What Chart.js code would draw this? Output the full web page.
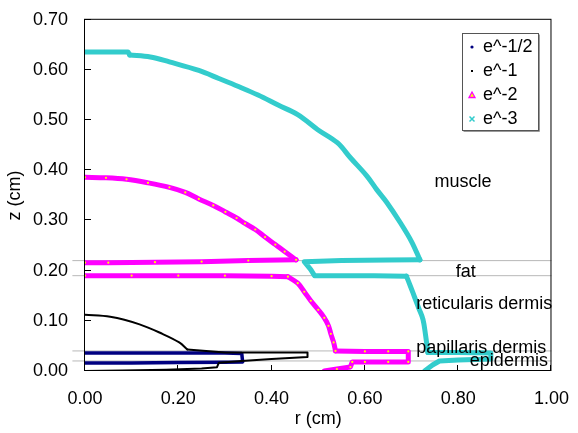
<!DOCTYPE html>
<html>
<head>
<meta charset="utf-8">
<script src="https://cdn.jsdelivr.net/npm/chart.js@4.4.1/dist/chart.umd.min.js"></script>
<style>
html, body { margin: 0; padding: 0; background: #fff; }
#c { display: block; }
</style>
</head>
<body>
<canvas id="c" width="578" height="433"></canvas>
<script>
// contour e^-1/2
const e05R = [0, 0.10, 0.20, 0.30, 0.336, 0.338, 0.30, 0.20, 0.10, 0];
const e05Z = [0.036, 0.036, 0.036, 0.036, 0.035, 0.018, 0.0175, 0.017, 0.016, 0.016];

// contour e^-1 : curved part, then the flat loop down to the surface
const e1ArcR = [0, 0.054, 0.117, 0.166, 0.202, 0.2195];
const e1ArcZ = [0.112, 0.108, 0.093, 0.074, 0.057, 0.043];
const e1FlatR = [0.2195, 0.30, 0.40, 0.477, 0.477, 0.40, 0.336, 0.287, 0.283, 0.25, 0.174, 0.08, 0];
const e1FlatZ = [0.043, 0.037, 0.037, 0.037, 0.028, 0.024, 0.020, 0.0165, 0.0077, 0.005, 0.0026, 0.001, 0.0];

// contour e^-2
const e2ArcR = [0, 0.045, 0.089, 0.135, 0.181, 0.215, 0.244, 0.275, 0.301, 0.325, 0.343, 0.365, 0.386, 0.408, 0.428, 0.4525];
const e2ArcZ = [0.386, 0.385, 0.382, 0.375, 0.366, 0.356, 0.343, 0.330, 0.317, 0.305, 0.294, 0.282, 0.267, 0.252, 0.238, 0.2215];
const e2FatTopR = [0.4525, 0.35, 0.25, 0.15, 0.05, 0];
const e2FatTopZ = [0.2215, 0.220, 0.218, 0.217, 0.216, 0.216];
const e2FatBotR = [0, 0.10, 0.20, 0.30, 0.40, 0.435];
const e2FatBotZ = [0.190, 0.190, 0.190, 0.190, 0.189, 0.188];
const e2DermR = [0.435, 0.456, 0.470, 0.484, 0.50, 0.513, 0.522, 0.527, 0.533, 0.537];
const e2DermZ = [0.188, 0.175, 0.158, 0.140, 0.122, 0.106, 0.090, 0.074, 0.057, 0.040];
const e2SkinR = [0.537, 0.60, 0.65, 0.693, 0.693, 0.65, 0.60, 0.573, 0.569, 0.54, 0.513];
const e2SkinZ = [0.040, 0.039, 0.039, 0.039, 0.018, 0.018, 0.018, 0.018, 0.008, 0.004, 0.0];

// contour e^-3
const e3StepR = [0, 0.092, 0.096];
const e3StepZ = [0.636, 0.636, 0.630];
const e3ArcR = [0.096, 0.14, 0.181, 0.244, 0.287, 0.329, 0.371, 0.414, 0.456, 0.499, 0.541, 0.569, 0.604, 0.625, 0.647, 0.675, 0.700, 0.718];
const e3ArcZ = [0.630, 0.626, 0.616, 0.599, 0.583, 0.567, 0.550, 0.530, 0.511, 0.481, 0.455, 0.425, 0.389, 0.362, 0.336, 0.297, 0.258, 0.2215];
const e3FatR = [0.718, 0.65, 0.55, 0.47, 0.484, 0.492, 0.55, 0.62, 0.689];
const e3FatZ = [0.2215, 0.221, 0.220, 0.218, 0.202, 0.190, 0.190, 0.190, 0.189];
const e3DermR = [0.689, 0.698, 0.707, 0.716, 0.7245, 0.730, 0.735];
const e3DermZ = [0.189, 0.168, 0.146, 0.124, 0.103, 0.072, 0.037];
const e3SkinR = [0.735, 0.80, 0.87, 0.87, 0.80, 0.76, 0.745, 0.728];
const e3SkinZ = [0.037, 0.037, 0.036, 0.024, 0.022, 0.020, 0.012, 0.0];

// layer boundaries and names
const boundaryZ = [0.22, 0.19, 0.04, 0.02];
const boundaryR = [-0.027, 1.0];
const layerNames = ["muscle", "fat", "reticularis dermis", "papillaris dermis", "epidermis"];
const layerLabelR = [0.749, 0.795, 0.71, 0.71, 0.825];
const layerLabelZ = [0.376, 0.198, 0.133, 0.0465, 0.019];

const FONT = "'Liberation Sans', Arial, sans-serif";
const pts = (r, z) => r.map((v, i) => ({ x: v, y: z[i] }));

// parts: [r, z, curved?]
const series = [
  { label: "e^-1/2", parts: [[e05R, e05Z, false]], color: "#000080", width: 3.5, mark: "dot" },
  { label: "e^-1", parts: [[e1ArcR, e1ArcZ, true], [e1FlatR, e1FlatZ, false]], color: "#000000", width: 2, mark: "pix" },
  { label: "e^-2", parts: [[e2ArcR, e2ArcZ, true], [e2FatTopR, e2FatTopZ, false], [e2FatBotR, e2FatBotZ, false],
      [e2DermR, e2DermZ, true], [e2SkinR, e2SkinZ, false]], color: "#ff00ff", width: 5, mark: "tri" },
  { label: "e^-3", parts: [[e3StepR, e3StepZ, false], [e3ArcR, e3ArcZ, true], [e3FatR, e3FatZ, false],
      [e3DermR, e3DermZ, true], [e3SkinR, e3SkinZ, false]], color: "#33cccc", width: 5, mark: "x" }
];

const datasets = [];
boundaryZ.forEach(z => {
  datasets.push({
    data: pts(boundaryR, [z, z]),
    showLine: true, borderColor: "#b8b8b8", borderWidth: 1,
    pointRadius: 0, order: 10, clip: false
  });
});
series.forEach((s, k) => {
  s.parts.forEach(p => {
    datasets.push({
      label: s.label,
      data: pts(p[0], p[1]),
      showLine: true,
      tension: p[2] ? 0.35 : 0,
      borderColor: s.color,
      borderWidth: s.width,
      borderJoinStyle: "round",
      borderCapStyle: "round",
      pointRadius: s.mark === "tri" ? 1.1 : 0,
      pointBackgroundColor: "#ffff00",
      pointBorderWidth: 0,
      order: 5 - k
    });
  });
});

// frame, inside ticks, layer names and legend
const decor = {
  id: "decor",
  afterDatasetsDraw(chart) {
    const { ctx, chartArea: a, scales: { x, y } } = chart;
    ctx.save();
    ctx.strokeStyle = "#000";
    ctx.lineWidth = 1;
    ctx.strokeRect(a.left - 0.5, a.top - 0.5, a.right - a.left, a.bottom - a.top);
    ctx.beginPath();
    y.ticks.forEach(t => {
      const py = Math.round(y.getPixelForValue(t.value)) - 0.5;
      ctx.moveTo(a.left, py); ctx.lineTo(a.left + 6, py);
    });
    x.ticks.forEach(t => {
      const px = Math.round(x.getPixelForValue(t.value)) - 0.5;
      ctx.moveTo(px, a.bottom); ctx.lineTo(px, a.bottom - 6);
    });
    ctx.stroke();

    ctx.fillStyle = "#000";
    ctx.font = "18px " + FONT;
    ctx.textAlign = "left";
    ctx.textBaseline = "middle";
    layerNames.forEach((n, i) => {
      ctx.fillText(n, x.getPixelForValue(layerLabelR[i]), y.getPixelForValue(layerLabelZ[i]));
    });

    // legend box
    const lx = 462, ly = 33, lw = 76, lh = 97;
    ctx.fillStyle = "#fff";
    ctx.fillRect(lx, ly, lw, lh);
    ctx.strokeStyle = "#555";
    ctx.strokeRect(lx + 0.5, ly + 0.5, lw, lh);
    ctx.strokeStyle = "#999";
    ctx.beginPath();
    ctx.moveTo(lx + 1.5, ly + lh + 1.5); ctx.lineTo(lx + lw + 1.5, ly + lh + 1.5); ctx.lineTo(lx + lw + 1.5, ly + 1.5);
    ctx.stroke();
    series.forEach((s, i) => {
      const cy = ly + 14 + i * 24;
      const mx = lx + 10;
      ctx.fillStyle = s.color;
      ctx.strokeStyle = s.color;
      if (s.mark === "dot") {
        ctx.beginPath(); ctx.arc(mx, cy, 1.6, 0, Math.PI * 2); ctx.fill();
      } else if (s.mark === "pix") {
        ctx.fillRect(mx - 1, cy - 1, 2, 2);
      } else if (s.mark === "tri") {
        ctx.beginPath();
        ctx.moveTo(mx, cy - 3); ctx.lineTo(mx + 3, cy + 2.5); ctx.lineTo(mx - 3, cy + 2.5); ctx.closePath();
        ctx.fillStyle = "#ffff00"; ctx.fill();
        ctx.lineWidth = 1.3; ctx.stroke();
      } else {
        ctx.lineWidth = 1.5;
        ctx.beginPath();
        ctx.moveTo(mx - 2.5, cy - 2.5); ctx.lineTo(mx + 2.5, cy + 2.5);
        ctx.moveTo(mx + 2.5, cy - 2.5); ctx.lineTo(mx - 2.5, cy + 2.5);
        ctx.stroke();
      }
      ctx.fillStyle = "#000";
      ctx.fillText(s.label, lx + 21, cy);
    });
    ctx.restore();
  }
};

new Chart(document.getElementById("c"), {
  type: "scatter",
  data: { datasets },
  options: {
    responsive: false,
    animation: false,
    devicePixelRatio: 1,
    layout: { padding: { top: 16, right: 21, left: 0, bottom: 0 } },
    plugins: { legend: { display: false }, tooltip: { enabled: false } },
    scales: {
      x: {
        type: "linear", min: 0, max: 1,
        afterFit: s => { s.height = 62; },
        grid: { display: false }, border: { display: false },
        ticks: { stepSize: 0.2, padding: 9, color: "#000", font: { size: 18, family: FONT }, callback: v => v.toFixed(2) },
        title: { display: true, text: "r (cm)", color: "#000", font: { size: 18, family: FONT }, padding: { top: 0, bottom: 3 } }
      },
      y: {
        type: "linear", min: 0, max: 0.7,
        afterFit: s => { s.width = 85; },
        grid: { display: false }, border: { display: false },
        ticks: { stepSize: 0.1, padding: 9, color: "#000", font: { size: 18, family: FONT }, callback: v => v.toFixed(2) },
        title: { display: true, text: "z (cm)", color: "#000", font: { size: 18, family: FONT }, padding: { top: 4, bottom: 0 } }
      }
    }
  },
  plugins: [decor]
});
</script>
</body>
</html>
